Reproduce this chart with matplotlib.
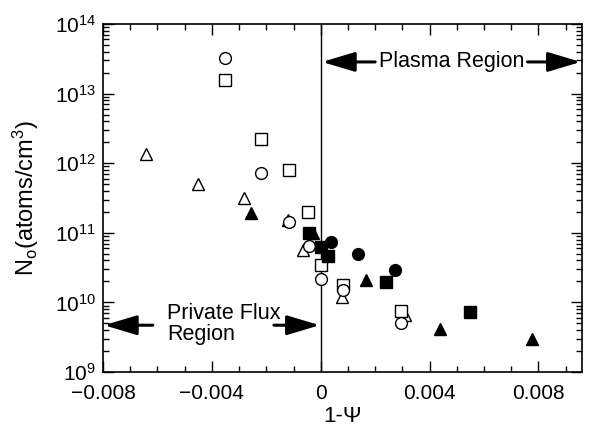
import matplotlib
matplotlib.use("Agg")
import matplotlib.pyplot as plt
from matplotlib.ticker import LogLocator, MultipleLocator, FixedLocator

plt.rcParams["font.family"] = ["Liberation Sans", "DejaVu Sans"]
plt.rcParams["mathtext.fontset"] = "custom"
plt.rcParams["mathtext.rm"] = "Liberation Sans"
plt.rcParams["mathtext.it"] = "Liberation Sans:italic"

# open symbols
open_circ_x = [-3.50e-3, -2.18e-3, -1.17e-3, -0.44e-3, 0.0, 0.82e-3, 2.95e-3]
open_circ_y = [3.2e13, 7.2e11, 1.44e11, 6.5e10, 2.17e10, 1.5e10, 5.0e9]
open_sq_x = [-3.50e-3, -2.18e-3, -1.17e-3, -0.47e-3, 0.0, 0.82e-3, 2.95e-3]
open_sq_y = [1.57e13, 2.2e12, 8.0e11, 2.0e11, 3.5e10, 1.78e10, 7.4e9]
open_tri_x = [-6.42e-3, -4.50e-3, -2.81e-3, -1.22e-3, -0.65e-3, 0.78e-3, 3.10e-3]
open_tri_y = [1.36e12, 5.0e11, 3.2e11, 1.55e11, 5.7e10, 1.2e10, 6.6e9]

# filled symbols
fill_circ_x = [0.39e-3, 1.37e-3, 2.72e-3]
fill_circ_y = [7.4e10, 4.9e10, 2.9e10]
fill_sq_x = [-0.44e-3, 0.0, 0.25e-3, 2.39e-3, 5.49e-3]
fill_sq_y = [9.8e10, 6.3e10, 4.6e10, 1.95e10, 7.3e9]
fill_tri_x = [-2.58e-3, -0.28e-3, 1.68e-3, 4.40e-3, 7.76e-3]
fill_tri_y = [1.94e11, 1.0e11, 2.1e10, 4.2e9, 2.95e9]

fig = plt.figure(figsize=(5.91, 4.30), dpi=100)
ax = fig.add_axes([0.1743, 0.1349, 0.8105, 0.8093])

ms = 8.5
kw_open = dict(ls="none", mfc="white", mec="black", mew=1.0, ms=ms)
kw_fill = dict(ls="none", mfc="black", mec="black", mew=1.0, ms=ms)
ax.plot(open_tri_x, open_tri_y, "^", **kw_open)
ax.plot(open_sq_x, open_sq_y, "s", **kw_open)
ax.plot(open_circ_x, open_circ_y, "o", **kw_open)
ax.plot(fill_tri_x, fill_tri_y, "^", **kw_fill)
ax.plot(fill_sq_x, fill_sq_y, "s", **kw_fill)
ax.plot(fill_circ_x, fill_circ_y, "o", **kw_fill)

ax.axvline(0, color="black", lw=1.0, zorder=1)

ax.set_yscale("log")
ax.set_xlim(-0.008, 0.0096)
ax.set_ylim(1e9, 1e14)

ax.xaxis.set_major_locator(FixedLocator([-0.008, -0.004, 0, 0.004, 0.008]))
ax.xaxis.set_minor_locator(MultipleLocator(0.001))
ax.set_xticklabels(["\u22120.008", "\u22120.004", "0", "0.004", "0.008"])
ax.yaxis.set_major_locator(LogLocator(base=10, numticks=10))
ax.yaxis.set_minor_locator(LogLocator(base=10, subs=range(2, 10), numticks=10))

ax.tick_params(which="both", direction="in", top=True, right=True,
               labelsize=15, width=1.0)
ax.tick_params(axis="x", pad=8.5)
ax.tick_params(axis="y", pad=5)
ax.tick_params(which="major", length=8)
ax.tick_params(which="minor", length=4)
for sp in ax.spines.values():
    sp.set_linewidth(1.2)

ax.set_xlabel("1-\u03a8", fontsize=16, labelpad=2)
ax.set_ylabel("N$_\\mathrm{o}$(atoms/cm$^3$)", fontsize=17, labelpad=10)

arrow = dict(arrowstyle="-|>,head_length=2.0,head_width=0.6",
             color="black", lw=2.2, mutation_scale=10, shrinkA=0, shrinkB=0)

# plasma region
y_pl = 2.85e13
ax.text(4.8e-3, y_pl, "Plasma Region", fontsize=15.5, ha="center", va="center")
ax.annotate("", xy=(0.05e-3, y_pl), xytext=(2.0e-3, y_pl), arrowprops=arrow)
ax.annotate("", xy=(9.55e-3, y_pl), xytext=(7.6e-3, y_pl), arrowprops=arrow)

# private flux region
y_pf = 4.7e9
ax.text(-5.65e-3, 4.9e9, "Private Flux\nRegion", fontsize=15.5,
        ha="left", va="center", linespacing=1.0)
ax.annotate("", xy=(-7.96e-3, y_pf), xytext=(-6.17e-3, y_pf), arrowprops=arrow)
ax.annotate("", xy=(-0.04e-3, y_pf), xytext=(-1.72e-3, y_pf), arrowprops=arrow)

fig.savefig("out.png", dpi=100)
